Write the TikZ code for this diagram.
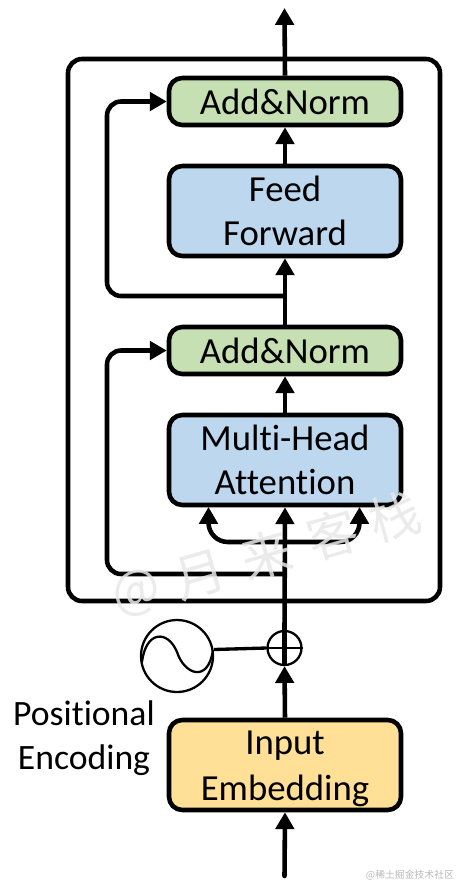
\documentclass[tikz,border=0pt]{standalone}
\usepackage{fontspec}
\setmainfont{Carlito}[RawFeature=-liga]
\newfontfamily\cjkfont{Noto Sans CJK SC}
\usetikzlibrary{arrows.meta}
\definecolor{normgreen}{RGB}{198,224,180}
\definecolor{attnblue}{RGB}{189,215,238}
\definecolor{embedyellow}{RGB}{255,224,150}
\tikzset{
    blockbox/.style={draw,line width=2.6pt,rounded corners=7.5pt,minimum width=4.64cm,inner sep=0pt,align=center,
        font=\fontsize{20.9}{25}\selectfont},
    thinbox/.style={blockbox,minimum height=0.94cm},
    tallbox/.style={blockbox,minimum height=1.8cm},
    flow/.style={line width=2.6pt,-{Triangle[length=9.6pt,width=10.4pt]}},
    skipflow/.style={flow,rounded corners=8pt},
    branchflow/.style={flow,rounded corners=11pt},
    ringline/.style={draw,circle,line width=1.3pt,inner sep=0pt},
    markglyph/.style={text=gray!18,opacity=0.85,rotate=16,inner sep=0pt,font=\cjkfont\fontsize{29}{30}\selectfont}
}
\begin{document}
\begin{tikzpicture}[x=0.02cm,y=-0.02cm]
    \useasboundingbox (0,0) rectangle (470,896);

    % Encoder frame
    \draw[line width=2.6pt,rounded corners=8pt] (68,59) rectangle (440,601);

    % Blocks
    \node[thinbox,fill=normgreen] (addtop) at (285,101.5) {Add\&Norm};
    \node[tallbox,fill=attnblue] (feed) at (285,211) {Feed\\Forward};
    \node[thinbox,fill=normgreen] (addlow) at (285,350.5) {Add\&Norm};
    \node[tallbox,fill=attnblue] (attn) at (285,460) {Multi-Head\\Attention};
    \node[tallbox,fill=embedyellow] (embed) at (285,765) {\rule{0pt}{17.5pt}Input\\[1pt]Embedding};

    % Positional encoding
    \node[ringline,minimum size=0.68cm] (plus) at (284.5,648) {};
    \node[ringline,minimum size=1.44cm] (wave) at (177,656) {};
    \node[align=center,font=\fontsize{20.3}{25}\selectfont] (poslabel) at (84,738.5) {Positional\\Encoding};
    \draw[line width=1.2pt] (plus.west) -- (plus.east);
    \draw[line width=1.3pt] (142,662) .. controls (146,630) and (168,630) .. (177,652)
        .. controls (184,674) and (208,684) .. (213,650);
    \draw[line width=1.9pt] (wave.east |- 0,649.5) -- (plus.west);

    % Named points for free ends and joins
    \coordinate (outtip) at (284.5,8);
    \coordinate (intail) at (284.5,876);
    \coordinate (jointop) at (284.5,296);
    \coordinate (joinlow) at (284.5,574);
    \coordinate (joinbranch) at (284.5,542);
    \coordinate (keytip) at (208.5,507);
    \coordinate (valuetip) at (359.5,507);

    % Main path
    \draw[flow,line cap=round] (intail) -- (embed.south);
    \draw[flow] (embed.north) -- (plus.south);
    \draw[line width=2.6pt] (plus.south) -- (plus.north);
    \draw[flow] (plus.north) -- (attn.south);
    \draw[flow] (attn.north) -- (addlow.south);
    \draw[flow] (addlow.north) -- (feed.south);
    \draw[flow] (feed.north) -- (addtop.south);
    \draw[flow] (addtop.north) -- (outtip);

    % Residual connections
    \draw[skipflow] (jointop) -- (107,296) |- (addtop.west);
    \draw[skipflow] (joinlow) -- (107,574) |- (addlow.west);

    % Branches into attention
    \draw[branchflow] (joinbranch) -| (keytip);
    \draw[branchflow] (joinbranch) -| (valuetip);

    % Watermarks
    \foreach \glyph/\px/\py/\nm in {@/137/593/at,月/200/575/yue,来/267/555/lai,客/333/535/ke,栈/395/517/zhan}
        \node[markglyph] (mark\nm) at (\px,\py) {\glyph};
    \node[text=gray!55,font=\cjkfont\fontsize{5.6}{6}\selectfont] (marksmall) at (410,875) {@稀土掘金技术社区};
\end{tikzpicture}
\end{document}
